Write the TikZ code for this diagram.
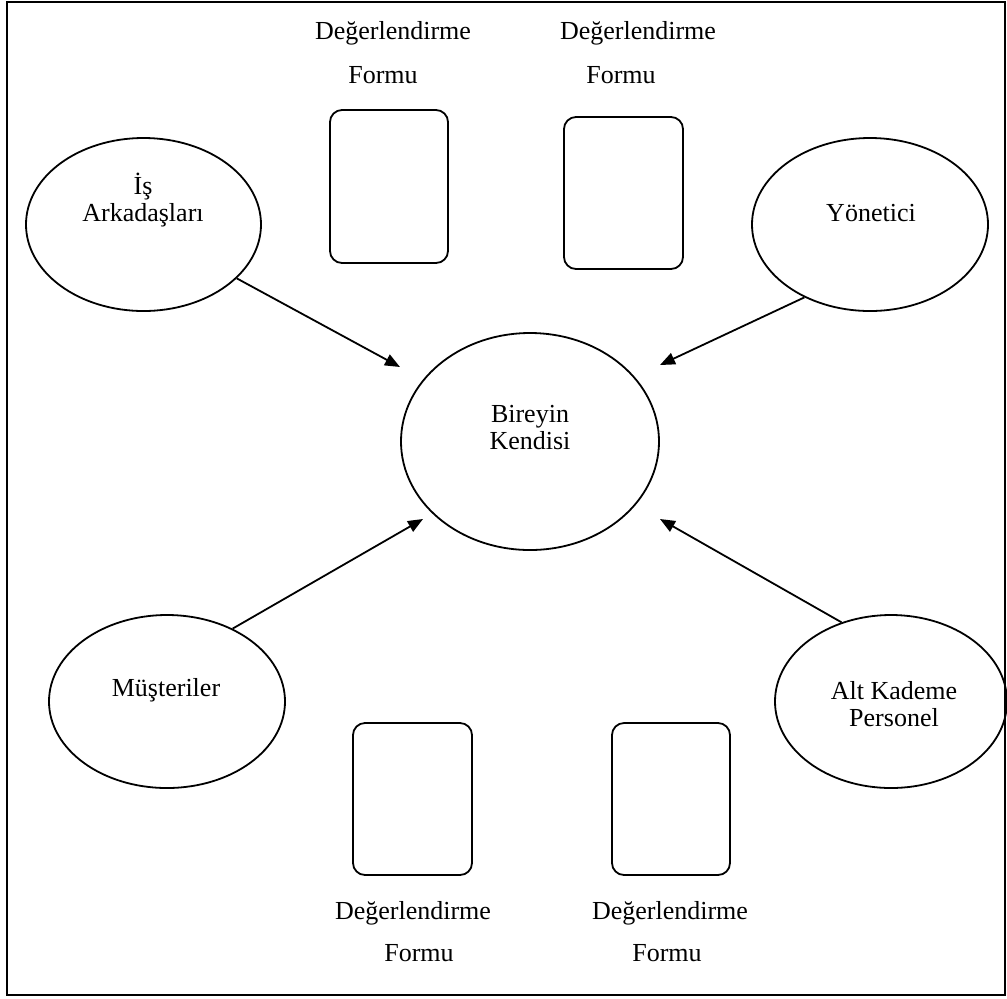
\documentclass[tikz,border=0pt]{standalone}
\usepackage{fontspec}
\setmainfont{Liberation Serif}
\usetikzlibrary{shapes.geometric,arrows.meta}
\begin{document}
\begin{tikzpicture}[x=0.5pt,y=-0.5pt,
  oval/.style={draw,ellipse,line width=0.9pt,inner sep=0pt},
  form/.style={draw,rectangle,rounded corners=6pt,line width=0.9pt,inner sep=0pt},
  lbl/.style={font=\fontsize{13}{13.5}\selectfont,align=center,inner sep=0pt},
  arr/.style={line width=0.9pt,-{Triangle[length=7.5pt,width=6pt]}}]
\useasboundingbox (0,0) rectangle (1007,998);
\draw[line width=1.1pt] (7,2) rectangle (1005,995);
% forms
\node[form,minimum width=59pt,minimum height=76.5pt] (f1) at (389,186.5) {};
\node[form,minimum width=59.5pt,minimum height=76pt] (f2) at (623.5,193) {};
\node[form,minimum width=59.5pt,minimum height=76pt] (f3) at (412.5,799) {};
\node[form,minimum width=59pt,minimum height=76pt] (f4) at (671,799) {};
\node[lbl] (d1) at (393,33) {Değerlendirme};
\node[lbl] (o1) at (383,75) {Formu};
\node[lbl] (d2) at (638,33) {Değerlendirme};
\node[lbl] (o2) at (621,75) {Formu};
\node[lbl] (d3) at (413,913) {Değerlendirme};
\node[lbl] (o3) at (419,953) {Formu};
\node[lbl] (d4) at (670,913) {Değerlendirme};
\node[lbl] (o4) at (667,953) {Formu};
% ellipses
\node[oval,minimum width=117.5pt,minimum height=86.5pt] (is) at (143.5,224.5) {};
\node[oval,minimum width=118pt,minimum height=86.5pt] (yon) at (870,224.5) {};
\node[oval,minimum width=118pt,minimum height=86.5pt] (mus) at (167,701.5) {};
\node[oval,minimum width=116pt,minimum height=86.5pt] (alt) at (891,701.5) {};
\node[oval,minimum width=129pt,minimum height=108.5pt] (ben) at (530,441.5) {};
\node[lbl] (tis) at (143,200) {İş\\Arkadaşları};
\node[lbl] (tyon) at (871,213) {Yönetici};
\node[lbl] (tmus) at (166,690) {Müşteriler};
\node[lbl] (talt) at (894,704) {Alt Kademe\\Personel};
\node[lbl] (tben) at (530,428) {Bireyin\\Kendisi};
% arrow tips
\coordinate (t1) at (400,367);
\coordinate (t2) at (660,365);
\coordinate (t3) at (423,519);
\coordinate (t4) at (660,519);
\draw[arr] (is.330) -- (t1);
\draw[arr] (yon.228) -- (t2);
\draw[arr] (mus.48) -- (t3);
\draw[arr] (alt.122) -- (t4);
\end{tikzpicture}
\end{document}
